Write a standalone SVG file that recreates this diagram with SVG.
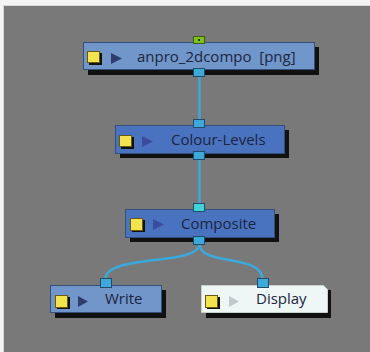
<svg xmlns="http://www.w3.org/2000/svg" width="370" height="352" viewBox="0 0 370 352">
<style>
.bg{fill:#797979}
.shadow{fill:#111}
.node{stroke:#34507a;stroke-width:1}
.light{fill:#7196c9}
.dark{fill:#4a73bf}
.white{fill:#eef6f6;stroke:#c8d0d0}
.port{fill:#3aa9dc;stroke:#234a66;stroke-width:1}
.cyan{fill:#3dd6d6;stroke:#234a66;stroke-width:1}
.green{fill:#7cc21f;stroke:#3c5a10;stroke-width:1}
.ysh{fill:#111}
.yel{fill:#f5e34c;stroke:#6a5a10;stroke-width:1}
.tri{fill:#2e3d6c}
.label{font-family:"Open Sans","Noto Sans",sans-serif;font-size:15px;fill:#1b2540}
.wire{fill:none;stroke:#3aa9dc;stroke-width:2.5}
</style>
<rect x="0" y="0" width="370" height="352" fill="#f3f3f3"/>
<rect x="3" y="5" width="367" height="347" fill="#d6d6d6"/>
<rect x="4" y="6" width="366" height="346" class="bg"/>
<g id="connectors">
<line class="wire" x1="199.5" y1="76" x2="199.5" y2="120"/>
<line class="wire" x1="199.5" y1="159" x2="199.5" y2="205"/>
<path class="wire" d="M199.5,244 C199.5,266 105.5,254 105.5,279"/>
<path class="wire" d="M199.5,244 C199.5,266 262.5,254 262.5,279"/>
</g>
<g id="node-anpro">
<rect class="shadow" x="88" y="47" width="231" height="28"/>
<rect class="node light" x="83.5" y="42.5" width="231" height="27"/>
<rect class="green" x="193.5" y="36.5" width="11" height="7"/>
<rect x="198" y="39" width="2" height="2" fill="#2a3a10"/>
<rect class="port" x="193.5" y="68.5" width="11" height="8"/>
<rect class="ysh" x="89" y="53" width="13" height="12"/>
<rect class="yel" x="87.5" y="51.5" width="12" height="11"/>
<polygon class="tri" points="111,53 122,58.5 111,64"/>
<text class="label" x="137" y="62" xml:space="preserve">anpro_2dcompo  [png]</text>
</g>
<g id="node-colour-levels">
<rect class="shadow" x="120" y="130" width="169" height="28"/>
<rect class="node dark" x="115.5" y="125.5" width="169" height="28"/>
<rect class="port" x="193.5" y="119.5" width="11" height="8"/>
<rect class="port" x="193.5" y="151.5" width="11" height="8"/>
<rect class="ysh" x="121" y="137" width="13" height="12"/>
<rect class="yel" x="119.5" y="135.5" width="12" height="11"/>
<polygon fill="#3a4c9c" points="142,136 153,141.5 142,147"/>
<text class="label" x="171" y="145">Colour-Levels</text>
</g>
<g id="node-composite">
<rect class="shadow" x="130" y="214" width="149" height="28"/>
<rect class="node dark" x="125.5" y="209.5" width="149" height="28"/>
<rect class="cyan" x="193.5" y="203.5" width="11" height="8"/>
<rect class="port" x="193.5" y="236.5" width="11" height="8"/>
<rect class="ysh" x="132" y="220" width="13" height="12"/>
<rect class="yel" x="130.5" y="218.5" width="12" height="12"/>
<polygon fill="#3a4c9c" points="153,219 164,224.5 153,230"/>
<text class="label" x="181" y="229">Composite</text>
</g>
<g id="node-write">
<rect class="shadow" x="55" y="290" width="111" height="28"/>
<rect class="node light" x="50.5" y="285.5" width="111" height="27"/>
<rect class="port" x="100.5" y="278.5" width="11" height="9"/>
<rect class="ysh" x="57" y="297" width="13" height="12"/>
<rect class="yel" x="55.5" y="295.5" width="12" height="12"/>
<polygon class="tri" points="78,296 88,301.5 78,307"/>
<text class="label" x="105" y="304">Write</text>
</g>
<g id="node-display">
<rect class="shadow" x="206" y="290" width="125" height="28"/>
<path class="node white" d="M201.5,285.5 H323.5 L327.5,289.5 V312.5 H201.5 Z"/>
<rect class="port" x="257.5" y="278.5" width="11" height="9"/>
<rect class="ysh" x="207" y="297" width="13" height="12"/>
<rect class="yel" x="205.5" y="295.5" width="12" height="12"/>
<polygon fill="#c2c9cb" points="229,296 239,301.5 229,307"/>
<text class="label" x="256" y="304">Display</text>
</g>
</svg>
